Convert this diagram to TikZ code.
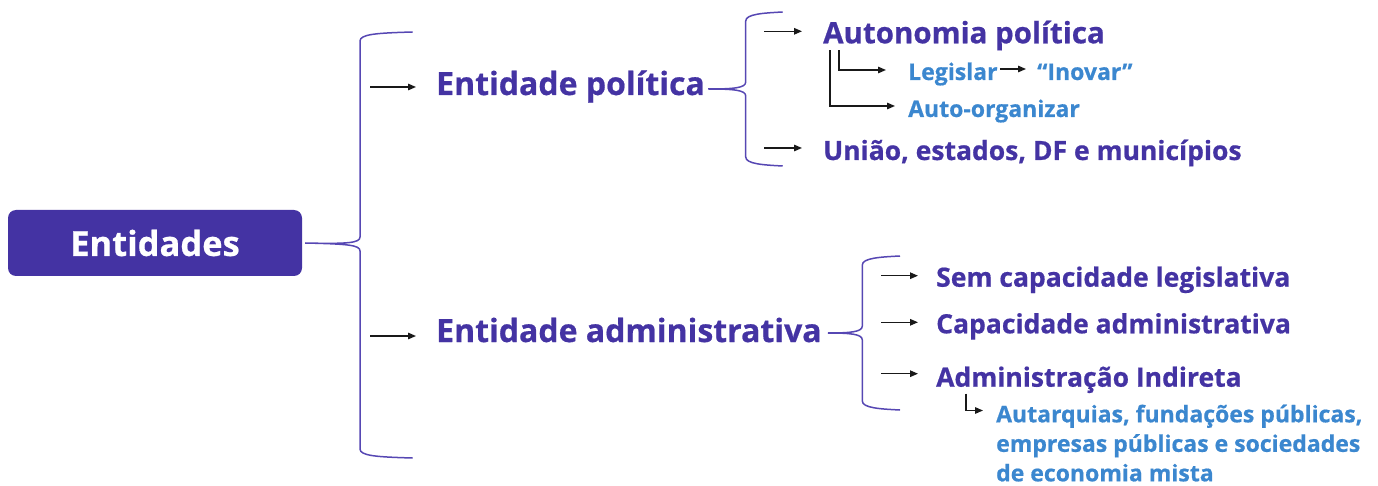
\documentclass[tikz,border=0pt]{standalone}
\usepackage{fontspec}
\setmainfont{Open Sans}[BoldFeatures={FakeBold=0.6}]
\usetikzlibrary{arrows.meta}

\definecolor{roxo}{HTML}{4433A3}
\definecolor{roxochave}{HTML}{5647B3}
\definecolor{azul}{HTML}{3B87CF}

% chaveta: x da haste, x das pontas, y de cima, y do meio, y de baixo, bico
\newcommand\chaveta[6]{%
  \draw[chave] (#2,#3) .. controls (#1+18,#3+1) and (#1,#3+2) .. (#1,#3+9)
    -- (#1,#4-7) .. controls (#1,#4-1) and (#1-12,#4) .. #6
    .. controls (#1-12,#4) and (#1,#4+1) .. (#1,#4+7)
    -- (#1,#5-9) .. controls (#1,#5-2) and (#1+18,#5-1) .. (#2,#5);}

\begin{document}
\begin{tikzpicture}[x=1pt,y=-1pt,
    caixa/.style={fill=roxo,text=white,rounded corners=8pt,minimum width=294pt,
      minimum height=66pt,font=\bfseries\fontsize{34.5}{40}\selectfont},
    titulo/.style={anchor=base west,inner sep=0pt,text=roxo,
      font=\bfseries\fontsize{32}{38}\selectfont},
    item/.style={anchor=base west,inner sep=0pt,text=roxo,
      font=\bfseries\fontsize{26.5}{32}\selectfont},
    sub/.style={anchor=base west,inner sep=0pt,text=azul,
      font=\bfseries\fontsize{23}{29.5}\selectfont},
    seta/.style={-{Triangle[length=8pt,width=6.5pt]},line width=1.4pt,black!90},
    chave/.style={draw=roxochave,line width=1.5pt}]
  \useasboundingbox (0,0) rectangle (1378,486);

  \node[caixa] (raiz) at (155,243) {Entidades};

  \node[titulo] (pol) at (436,95) {Entidade política};
  \node[titulo] (adm) at (436,342) {Entidade administrativa};

  \node[item,font=\bfseries\fontsize{29.5}{34}\selectfont] (auto) at (823,43.3) {Autonomia política};
  \node[sub] (leg) at (908,80) {Legislar};
  \node[sub] (inov) at (1037,80) {“Inovar”};
  \node[sub] (org) at (908,117) {Auto-organizar};
  \node[item] (uniao) at (823,160) {União, estados, DF e municípios};

  \node[item] (sem) at (936,286.7) {Sem capacidade legislativa};
  \node[item] (cap) at (936,333.3) {Capacidade administrativa};
  \node[item] (ind) at (936,386.7) {Administração Indireta};
  \node[sub,anchor=north west,align=left] (aut) at (996,404.5)
    {Autarquias, fundações públicas,\\empresas públicas e sociedades\\de economia mista};

  % chaves
  \chaveta{360}{412.7}{32}{244}{458}{([xshift=3pt]raiz.east)}
  \chaveta{745.7}{782.7}{12}{89}{166}{([shift={(3,-6)}]pol.base east)}
  \chaveta{862.3}{900}{256}{333}{410}{([shift={(6,-9)}]adm.base east)}

  % setas
  \draw[seta] ([shift={(-66,-8)}]pol.base west) -- ([shift={(-20,-8)}]pol.base west);
  \draw[seta] ([shift={(-66,-6)}]adm.base west) -- ([shift={(-20,-6)}]adm.base west);
  \draw[seta] ([shift={(-59,-12)}]auto.base west) -- ([shift={(-21,-12)}]auto.base west);
  \draw[seta] ([shift={(-59,-12)}]uniao.base west) -- ([shift={(-21,-12)}]uniao.base west);
  \draw[seta] ([shift={(-55,-11)}]sem.base west) -- ([shift={(-18,-11)}]sem.base west);
  \draw[seta] ([shift={(-55,-11)}]cap.base west) -- ([shift={(-18,-11)}]cap.base west);
  \draw[seta] ([shift={(-55,-13)}]ind.base west) -- ([shift={(-18,-13)}]ind.base west);
  \draw[seta] ([shift={(16,7)}]auto.base west) |- ([shift={(-22,-10)}]leg.base west);
  \draw[seta] ([shift={(7,7)}]auto.base west) |- ([shift={(-13,-11)}]org.base west);
  \draw[seta] ([shift={(2,-11)}]leg.base east) -- ([shift={(-11,-11)}]inov.base west);
  \draw[seta] ([shift={(30,7)}]ind.base west) |- ([shift={(-13,6)}]aut.north west);
\end{tikzpicture}
\end{document}
